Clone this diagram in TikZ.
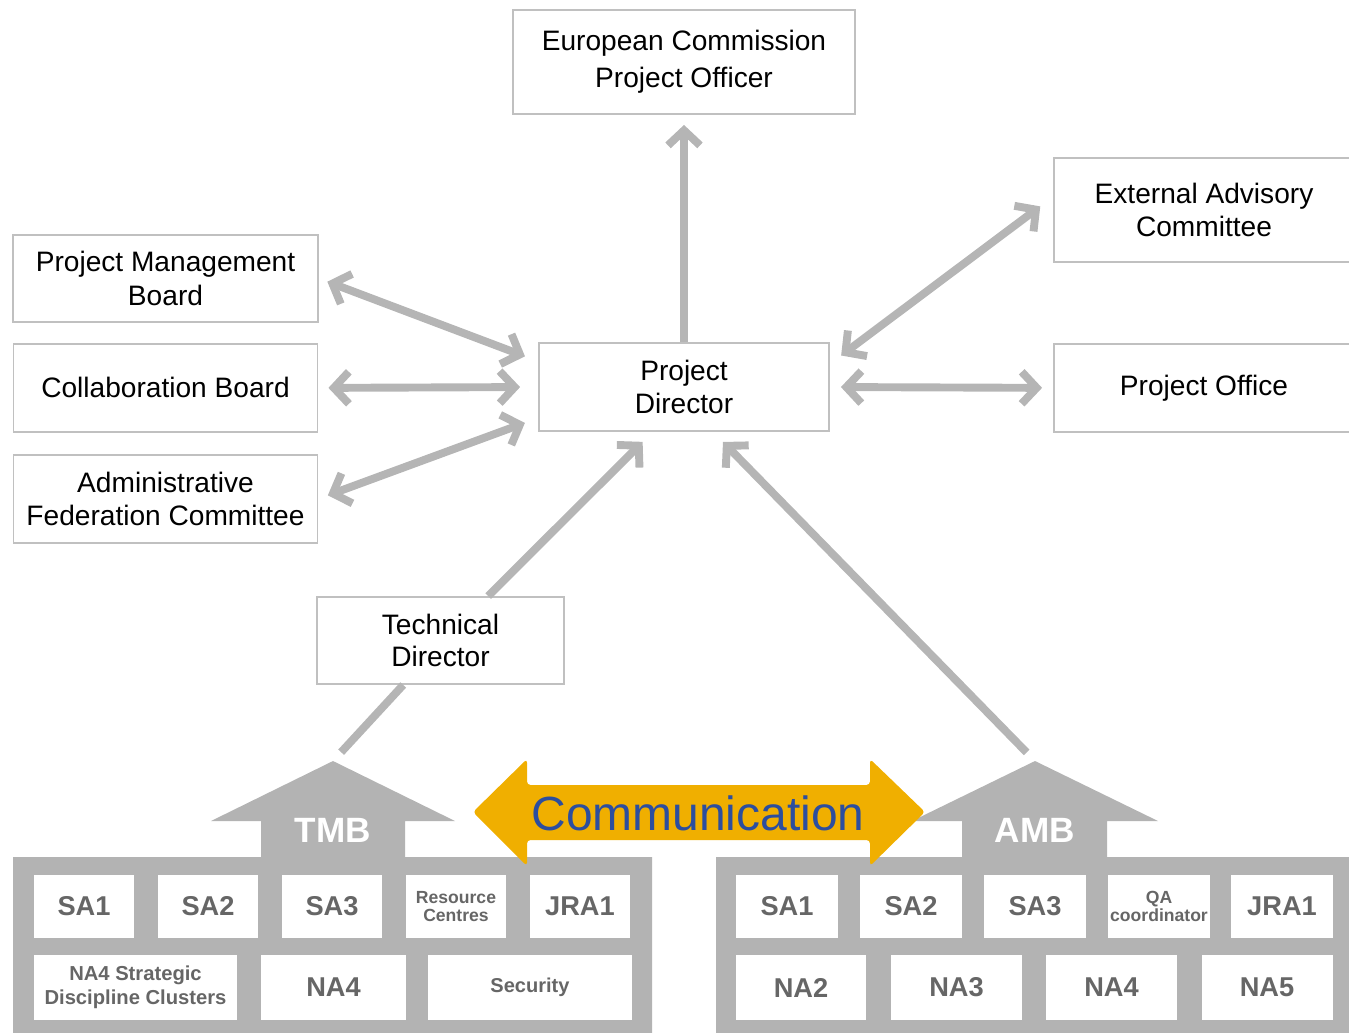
\documentclass[tikz,border=0pt]{standalone}
\usepackage{fontspec}
\setmainfont{Liberation Sans}
\usetikzlibrary{arrows.meta,positioning}
\definecolor{linegray}{RGB}{181,181,181}
\definecolor{boxgray}{RGB}{192,192,192}
\definecolor{blockgray}{RGB}{179,179,179}
\definecolor{celltext}{RGB}{102,102,102}
\definecolor{commorange}{RGB}{240,175,0}
\definecolor{commblue}{RGB}{44,78,158}

\begin{document}
\begin{tikzpicture}[
    x=0.02cm, y=-0.02cm,
    >={Straight Barb[length=0.3cm,width=0.64cm]},
    font=\fontsize{16}{19}\selectfont,
    unit/.style={
		rectangle,
		draw=boxgray,
		line width=1.1pt,
		fill=white,
		align=center,
		inner sep=0pt,
		minimum height=1.76cm
	},
	link/.style={
		draw=linegray,
		line width=4.5pt
	},
	cell/.style={
		rectangle,
		fill=white,
		inner sep=0pt,
		align=center,
		text=celltext,
		font=\fontsize{15.5}{18}\bfseries\selectfont,
		minimum height=1.26cm
	},
	small/.style={
		font=\fontsize{10}{10.5}\bfseries\selectfont
	}
  ]
  \clip (0,0) rectangle (1349,1032);
    % We start by placing the blocks
  \node [unit, minimum width=6.84cm, minimum height=2.08cm,
    font=\fontsize{16}{21}\selectfont] (ec) at (684,62)
  {European Commission\\Project Officer};

  \node [unit, minimum width=5.8cm] (pd) at (684,387) {Project\\Director};

  \node [unit, minimum width=6.1cm, minimum height=1.74cm] (pmb) at (165.5,278.5)
  {Project Management\\Board};
  \node [unit, minimum width=6.08cm, below=0.4cm of pmb] (cb) {Collaboration Board};
  \node [unit, minimum width=6.08cm, below=0.42cm of cb] (afc)
  {Administrative\\Federation Committee};

  \node [unit, minimum width=6cm, minimum height=2.08cm] (eac) at (1204,210)
  {External Advisory\\Committee};
  \node [unit, minimum width=6cm, below=1.6cm of eac] (po) {Project Office};

  \node [unit, minimum width=4.94cm, minimum height=1.74cm,
    font=\fontsize{16}{18}\selectfont] (td) at (440.5,640.5)
  {Technical\\Director};

  % the two boards
  \fill [blockgray] (13,1040) -- (13,857) -- (261,857) -- (261,821) -- (211,821)
    -- (333,761) -- (455,821) -- (405,821) -- (405,857) -- (652,857) -- (652,1040) -- cycle;
  \fill [blockgray] (716,1040) -- (716,857) -- (962,857) -- (962,821) -- (912,821)
    -- (1035,761) -- (1158,821) -- (1107,821) -- (1107,857) -- (1360,857) -- (1360,1040) -- cycle;
  \coordinate (tmbtop) at (333,761);
  \coordinate (ambtop) at (1035,761);
  \node [text=white, font=\fontsize{20}{24}\bfseries\selectfont] (tmb) at (333,830) {TMB};
  \node [text=white, font=\fontsize{20}{24}\bfseries\selectfont] (amb) at (1035,830) {AMB};

  \foreach \name/\x/\txt in {tsa1/84/SA1, tsa2/208/SA2, tsa3/332/SA3, tjra1/580/JRA1}
    \node [cell, minimum width=2cm] (\name) at (\x,906.5) {\txt};
  \node [cell, small, minimum width=2cm] (trc) at (456,906.5) {Resource\\Centres};
  \node [cell, minimum width=4.06cm, minimum height=1.3cm,
    font=\fontsize{11.5}{13.6}\bfseries\selectfont] (tsdc) at (135.5,987.5)
  {NA4 Strategic\\Discipline Clusters};
  \node [cell, minimum width=2.9cm, minimum height=1.3cm] (tna4) at (333.5,987.5) {NA4};
  \node [cell, minimum width=4.08cm, minimum height=1.3cm,
    font=\fontsize{11.4}{13}\bfseries\selectfont] (tsec) at (530,987.5) {Security};

  \foreach \name/\x/\txt in {asa1/787/SA1, asa2/911/SA2, asa3/1035/SA3, ajra1/1282/JRA1}
    \node [cell, minimum width=2.04cm] (\name) at (\x,906.5) {\txt};
  \node [cell, small, minimum width=2.04cm] (aqa) at (1159,906.5) {QA\\coordinator};
  \foreach \name/\x/\txt in {ana2/801/NA2, ana3/956.5/NA3, ana4/1111.5/NA4, ana5/1267/NA5}
    \node [cell, minimum width=2.62cm, minimum height=1.3cm] (\name) at (\x,987.5) {\txt};

  % communication arrow
  \fill [commorange, rounded corners=2pt] (473,812) -- (527,759) -- (527,785) -- (870,785)
    -- (870,759) -- (925,812) -- (870,866) -- (870,840) -- (527,840) -- (527,866) -- cycle;
  \node [text=commblue, font=\fontsize{27.3}{32}\selectfont] (comm) at (698,813) {Communication};

  % links to the director
  \draw [link,->, shorten >=0.2cm] (pd.north) -- (ec.south);
  \draw [link,<->, shorten <=0.18cm, shorten >=0.28cm] (pmb.east) -- (pd.170);
  \draw [link,<->, shorten <=0.2cm, shorten >=0.36cm] (cb.east) -- (pd.west);
  \draw [link,<->, shorten <=0.2cm, shorten >=0.28cm] (afc.east) -- (pd.192);
  \draw [link,<->, shorten <=0.32cm, shorten >=0.28cm] (eac.175) -- (pd.9);
  \draw [link,<->, shorten <=0.22cm, shorten >=0.22cm] (pd.east) -- (po.west);
  \draw [link,->, shorten >=0.28cm] (td.43) -- (pd.235);
  \draw [link,->, shorten <=0.24cm, shorten >=0.28cm] (ambtop) -- (pd.-57);
  \draw [link, shorten <=0.24cm] (tmbtop) -- (td.230);

\end{tikzpicture}
\end{document}
